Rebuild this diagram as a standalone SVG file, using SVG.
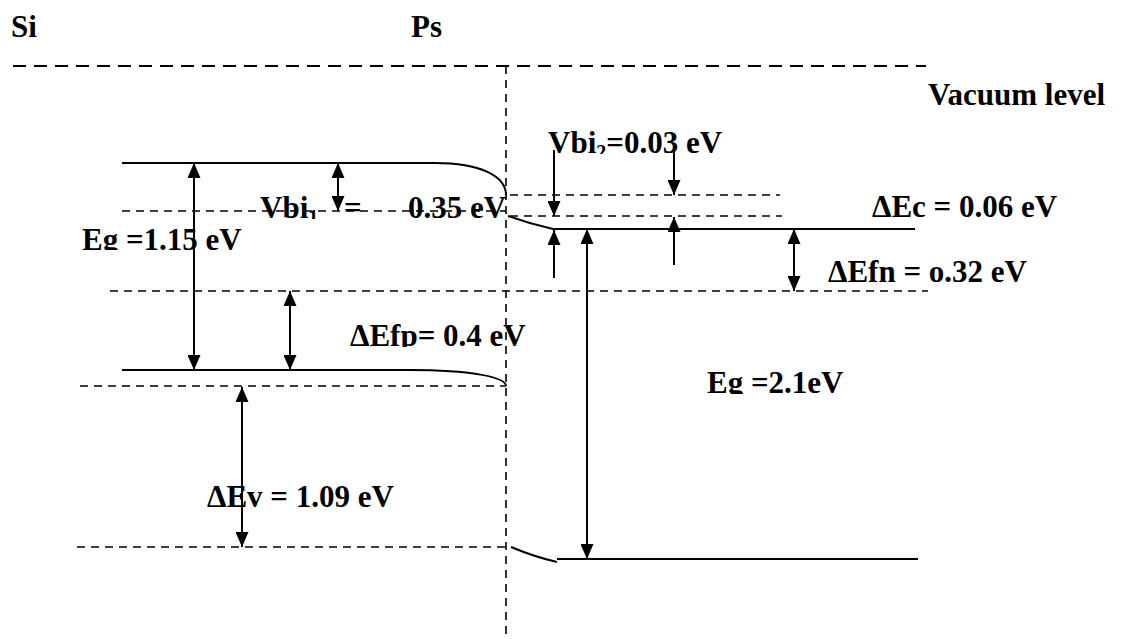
<svg xmlns="http://www.w3.org/2000/svg" width="1122" height="639" viewBox="0 0 1122 639">
<style>
text{font-family:"Liberation Serif","Times New Roman",serif;font-weight:bold;font-size:31px;fill:#000}
.band{fill:none;stroke:#000;stroke-width:2}
.dash{fill:none;stroke:#000;stroke-width:1.6;stroke-dasharray:8 6}
.vac{fill:none;stroke:#000;stroke-width:2;stroke-dasharray:13 8}
.arr{stroke:#000;stroke-width:2;fill:none}
.sub{font-size:20px}
</style>
<defs>
<marker id="ah" viewBox="0 0 15 13" refX="15" refY="6.5" markerWidth="15" markerHeight="13" markerUnits="userSpaceOnUse" orient="auto-start-reverse"><path d="M0,0 L15,6.5 L0,13 z" fill="#000"/></marker>
<clipPath id="cEg1"><rect x="70" y="215" width="200" height="35"/></clipPath>
<clipPath id="cVbi1"><rect x="250" y="185" width="130" height="34"/></clipPath>
<clipPath id="cVbi2"><rect x="540" y="120" width="200" height="34"/></clipPath>
<clipPath id="cEfp"><rect x="340" y="310" width="200" height="37"/></clipPath>
<clipPath id="cEg2"><rect x="700" y="360" width="160" height="34"/></clipPath>
</defs>

<g id="titles">
<text x="11" y="37">Si</text>
<text x="411" y="37">Ps</text>
<text x="928" y="105">Vacuum level</text>
</g>

<g id="levels">
<line class="vac" x1="13" y1="66" x2="926" y2="66"/>
<line class="dash" x1="506" y1="66" x2="506" y2="636"/>
<path class="band" d="M122,163 H435 C480,163 506,176 506,195"/>
<line class="dash" x1="122" y1="211" x2="506" y2="211"/>
<line class="dash" x1="110" y1="291" x2="928" y2="291"/>
<path class="band" d="M122,370 H410 C470,370 506,377 506,386"/>
<line class="dash" x1="80" y1="386" x2="506" y2="386"/>
<line class="dash" x1="77" y1="547" x2="506" y2="547"/>
<line class="dash" x1="510" y1="195" x2="780" y2="195"/>
<line class="dash" x1="510" y1="216" x2="782" y2="216"/>
<path class="band" d="M508,216 Q530,224 553,229"/>
<line class="band" x1="553" y1="229" x2="915" y2="229"/>
<path class="band" d="M511,547 Q535,557 557,562"/>
<line class="band" x1="557" y1="559" x2="918" y2="559"/>
</g>

<g id="connectors">
<line class="arr" x1="194" y1="163" x2="194" y2="370" marker-start="url(#ah)" marker-end="url(#ah)"/>
<line class="arr" x1="338" y1="163" x2="338" y2="211" marker-start="url(#ah)" marker-end="url(#ah)"/>
<line class="arr" x1="290" y1="291" x2="290" y2="370" marker-start="url(#ah)" marker-end="url(#ah)"/>
<line class="arr" x1="242" y1="387" x2="242" y2="547" marker-start="url(#ah)" marker-end="url(#ah)"/>
<line class="arr" x1="587" y1="229" x2="587" y2="559" marker-start="url(#ah)" marker-end="url(#ah)"/>
<line class="arr" x1="794" y1="229" x2="794" y2="291" marker-start="url(#ah)" marker-end="url(#ah)"/>
<line class="arr" x1="554" y1="150" x2="554" y2="216" marker-end="url(#ah)"/>
<line class="arr" x1="554" y1="278" x2="554" y2="230" marker-end="url(#ah)"/>
<line class="arr" x1="674" y1="143" x2="674" y2="195" marker-end="url(#ah)"/>
<line class="arr" x1="674" y1="265" x2="674" y2="217" marker-end="url(#ah)"/>
</g>

<g id="labels">
<text x="82" y="250" clip-path="url(#cEg1)">Eg =1.15 eV</text>
<text x="260" y="218" clip-path="url(#cVbi1)">Vbi<tspan class="sub" dy="6">1</tspan><tspan dy="-6" x="344">=</tspan></text>
<text x="408" y="218">0.35 eV</text>
<text x="548" y="153" clip-path="url(#cVbi2)">Vbi<tspan class="sub" dy="6">2</tspan><tspan dy="-6">=0.03 eV</tspan></text>
<text x="872" y="217">ΔEc = 0.06 eV</text>
<text x="828" y="282">ΔEfn = o.32 eV</text>
<text x="350" y="346" clip-path="url(#cEfp)">ΔEfp= 0.4 eV</text>
<text x="707" y="393" clip-path="url(#cEg2)">Eg =2.1eV</text>
<text x="207" y="507">ΔEv = 1.09 eV</text>
</g>
</svg>
